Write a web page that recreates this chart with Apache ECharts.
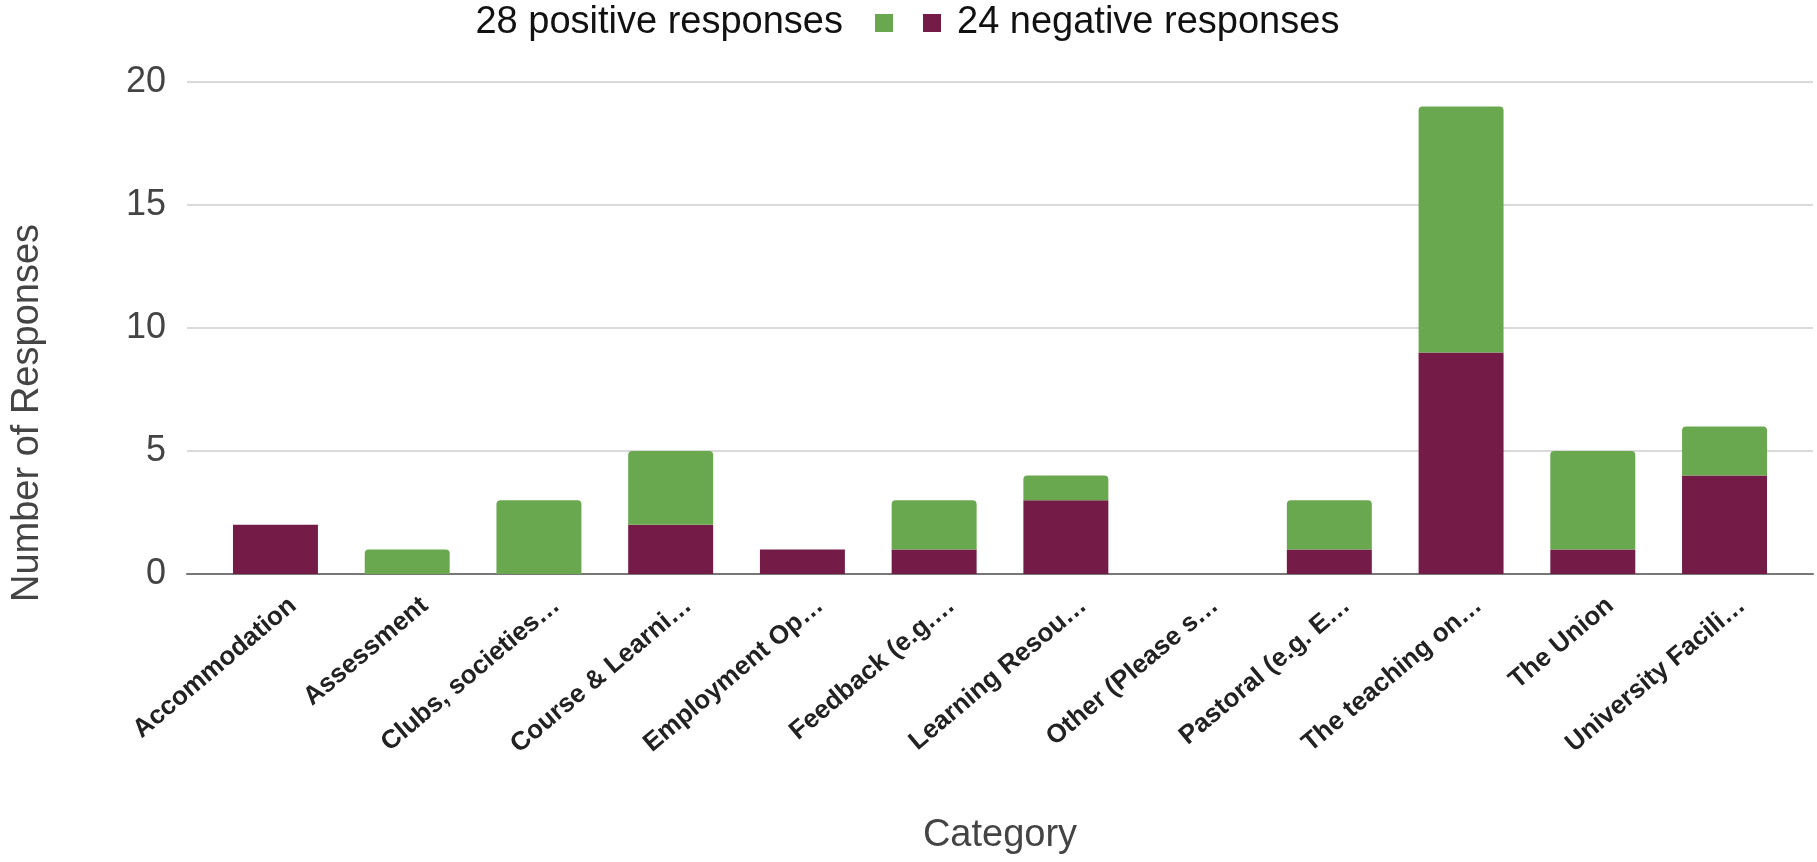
<!DOCTYPE html>
<html>
<head>
<meta charset="utf-8">
<script src="https://cdn.jsdelivr.net/npm/echarts@6/dist/echarts.min.js"></script>
<style>
html,body{margin:0;padding:0;background:#fff;}
#chart{width:1817px;height:862px;}
</style>
</head>
<body>
<div id="chart"></div>
<script>
const categories = ["Accommodation", "Assessment", "Clubs, societies…", "Course & Learni…", "Employment Op…", "Feedback (e.g.…", "Learning Resou…", "Other (Please s…", "Pastoral (e.g. E…", "The teaching on…", "The Union", "University Facili…"];
const negativeValues = [2, 0, 0, 2, 1, 1, 3, 0, 1, 9, 1, 4];
const positiveValues = [0, 1, 3, 3, 0, 2, 1, 0, 2, 10, 4, 2];
const positiveName = "28 positive responses";
const negativeName = "24 negative responses";
const yTicks = [0, 5, 10, 15, 20];

const chart = echarts.init(document.getElementById('chart'), null, {renderer: 'canvas'});
const sans = '"Liberation Sans", Arial, sans-serif';
chart.setOption({
  animation: false,
  backgroundColor: '#ffffff',
  legend: [
    {
      data: [positiveName], right: 924, top: 4, align: 'right',
      itemWidth: 18, itemHeight: 18, icon: 'rect',
      textStyle: {fontFamily: sans, fontSize: 38, color: '#111', padding: [0, 27, 0, 0]},
      padding: 0
    },
    {
      data: [negativeName], left: 923, top: 4, align: 'left',
      itemWidth: 18, itemHeight: 18, icon: 'rect',
      textStyle: {fontFamily: sans, fontSize: 38, color: '#111', padding: [0, 0, 0, 11]},
      padding: 0
    }
  ],
  grid: [
    {left: 187, right: 4, top: 82, bottom: 288, containLabel: false},
    {left: 209.6, right: 26.6, top: 82, bottom: 288, containLabel: false}
  ],
  xAxis: [
    {
      gridIndex: 0, type: 'value', min: 0, max: 1,
      axisLine: {show: true, onZero: false, lineStyle: {color: '#777', width: 2}},
      axisTick: {show: false}, axisLabel: {show: false}, splitLine: {show: false}
    },
    {
      gridIndex: 1, type: 'category', data: categories,
      axisLine: {show: false}, axisTick: {show: false},
      axisLabel: {
        rotate: 40, interval: 0, margin: 26,
        verticalAlign: 'top', padding: [0, -12, 0, 0],
        fontFamily: sans, fontWeight: 'bold',
        fontSize: 26, color: '#222'
      },
      name: 'Category', nameLocation: 'middle', nameGap: 243,
      nameTextStyle: {fontFamily: sans, fontSize: 38, color: '#444'}
    }
  ],
  yAxis: [
    {
      gridIndex: 0, type: 'value', min: yTicks[0], max: yTicks[yTicks.length - 1], interval: 5,
      axisLine: {show: false}, axisTick: {show: false},
      axisLabel: {margin: 21, fontFamily: sans, fontSize: 36, color: '#444'},
      splitLine: {lineStyle: {color: '#dadada', width: 2}}
    },
    {
      gridIndex: 1, type: 'value', min: yTicks[0], max: yTicks[yTicks.length - 1], interval: 5,
      show: false, splitLine: {show: false}
    }
  ],
  graphic: [
    {
      type: 'text', x: 28, y: 413, rotation: Math.PI / 2,
      style: {
        text: 'Number of Responses', fill: '#444',
        font: '38px "Liberation Sans", Arial, sans-serif',
        align: 'center', verticalAlign: 'middle'
      }
    }
  ],
  series: [
    {
      name: negativeName, type: 'bar', stack: 'total', xAxisIndex: 1, yAxisIndex: 1,
      data: negativeValues, barWidth: '64.5%',
      itemStyle: {color: '#741b47'}
    },
    {
      name: positiveName, type: 'bar', stack: 'total', xAxisIndex: 1, yAxisIndex: 1,
      data: positiveValues, barWidth: '64.5%',
      itemStyle: {color: '#6aa84f', borderRadius: [4, 4, 0, 0]}
    }
  ]
});
</script>
</body>
</html>
